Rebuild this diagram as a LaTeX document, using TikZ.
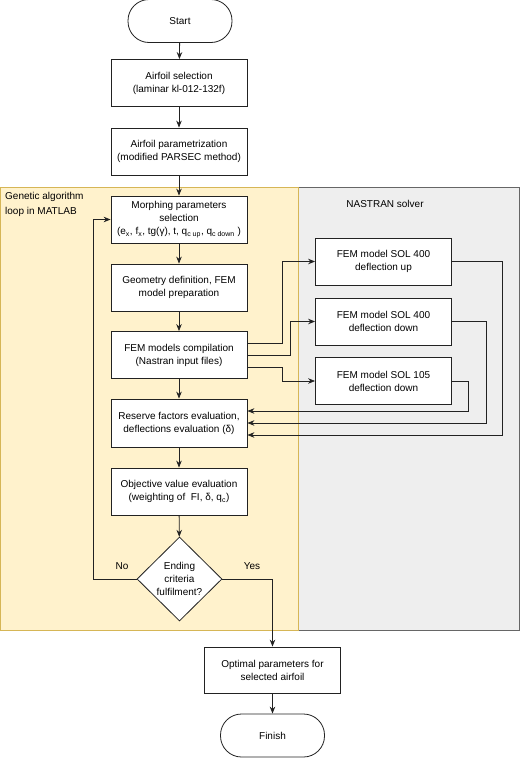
\documentclass[tikz,border=0pt]{standalone}
\usepackage{fontspec}
\setmainfont{Liberation Sans}
\usepackage{tikz}
\usetikzlibrary{arrows.meta,shapes.geometric}
\definecolor{loopfill}{HTML}{FFF2CC}
\definecolor{loopline}{HTML}{D6B656}
\definecolor{solverfill}{HTML}{EEEEEE}
\definecolor{solverline}{HTML}{666666}
\definecolor{ink}{HTML}{222222}

\begin{document}
\begin{tikzpicture}[x=1pt,y=-1pt,
    font=\fontsize{10}{13}\selectfont,
    process/.style ={rectangle, draw=ink, fill=white, line width=0.8pt, align=center,
      minimum width=136pt, minimum height=47pt, inner sep=2pt},
    terminal/.style ={rectangle, rounded corners=21pt, draw=ink, fill=white, line width=0.8pt,
      minimum width=104pt, minimum height=43pt},
    decision/.style ={diamond, draw=ink, fill=white, line width=0.8pt, align=center,
      minimum width=85pt, minimum height=84pt, inner sep=0pt},
    flow/.style ={draw=ink, line width=0.8pt, -{Stealth[length=7pt,width=5.5pt]}}]
   \useasboundingbox (0,0) rectangle (520,758);
   % regions
   \draw[fill=solverfill, draw=solverline, line width=0.8pt] (298,187) rectangle (519,630);
   \draw[fill=loopfill, draw=loopline, line width=0.8pt] (0,187) rectangle (298,630);
   \node[anchor=west, align=left, inner sep=0pt, font=\fontsize{10}{14.5}\selectfont] (looptitle) at (5,204.5)
     {Genetic algorithm\\loop in MATLAB};
   \node (solvertitle) at (385,204) {NASTRAN solver};
   % main column
   \node[terminal] (start) at (180,21) {Start};
   \node[process] (select) at (179,83) {Airfoil selection\\(laminar kl-012-132f)};
   \node[process] (param) at (179,151.5) {Airfoil parametrization\\(modified PARSEC method)};
   \node[process] (morph) at (179,219.5) {Morphing parameters\\selection\\
     (e\textsubscript{x}, f\textsubscript{x}, tg(γ), t, q\textsubscript{c up}, q\textsubscript{c down} )};
   \node[process] (geom) at (179,287.5) {Geometry definition, FEM\\model preparation};
   \node[process] (compile) at (179,355) {FEM models compilation\\(Nastran input files)};
   \node[process, minimum height=48pt] (reserve) at (179,423)
     {Reserve factors evaluation,\\deflections evaluation (δ)};
   \node[process] (objective) at (179,491.5)
     {Objective value evaluation\\(weighting of \ FI, δ, q\textsubscript{c})};
   \node[decision] (ending) at (179.5,579) {Ending\\criteria\\fulfilment?};
   \node[process, minimum height=46pt] (optimal) at (272.5,670) {Optimal parameters for\\selected airfoil};
   \node[terminal] (finish) at (272.5,735.5) {Finish};
   % solver column
   \node[process] (up) at (383.5,261.5) {FEM model SOL 400\\deflection up};
   \node[process] (down) at (383.5,321.5) {FEM model SOL 400\\deflection down};
   \node[process] (sol105) at (383.5,381) {FEM model SOL 105\\deflection down};
   \node (no) at (122,566) {No};
   \node (yes) at (252,566) {Yes};
   % connectors
   \draw[flow] (start) -- (select);
   \draw[flow] (select) -- (param);
   \draw[flow] (param) -- (morph);
   \draw[flow] (morph) -- (geom);
   \draw[flow] (geom) -- (compile);
   \draw[flow] (compile) -- (reserve);
   \draw[flow] (reserve) -- (objective);
   \draw[flow] (objective) -- (ending);
   \draw[flow] (ending.west) -- ++(-43,0) |- (morph.west);
   \draw[flow] (ending.east) -| (optimal.north);
   \draw[flow] (optimal) -- (finish);
   \draw[flow] ([yshift=12pt]compile.east) -- ++(35,0) |- (up.west);
   \draw[flow] (compile.east) -- ++(43,0) |- (down.west);
   \draw[flow] ([yshift=-12pt]compile.east) -- ++(35,0) |- (sol105.west);
   \draw[flow] (up.east) -- ++(50,0) |- ([yshift=-12pt]reserve.east);
   \draw[flow] (down.east) -- ++(34,0) |- (reserve.east);
   \draw[flow] (sol105.east) -- ++(16,0) |- ([yshift=12pt]reserve.east);
\end{tikzpicture}
\end{document}
